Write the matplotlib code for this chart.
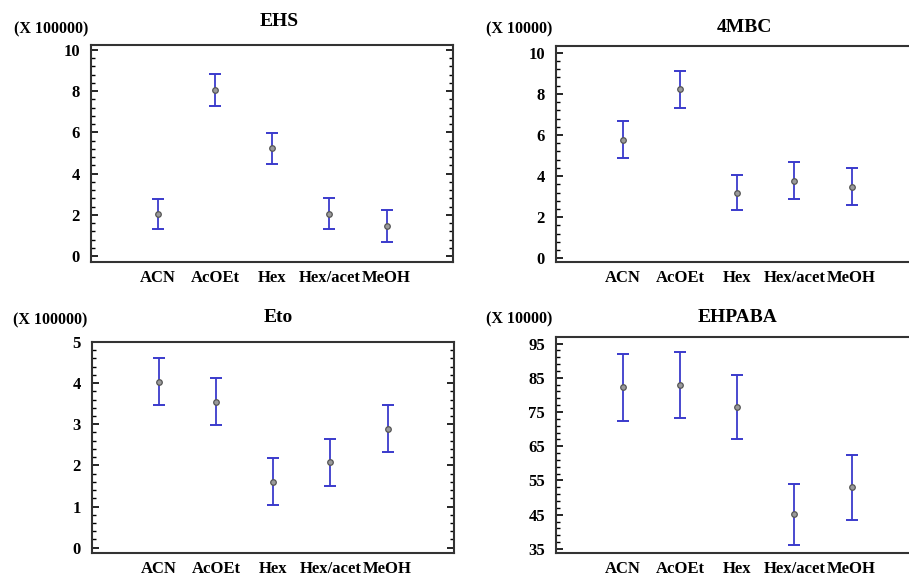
import matplotlib
matplotlib.use('Agg')
import matplotlib.pyplot as plt
from matplotlib.ticker import MultipleLocator, AutoMinorLocator

plt.rcParams['font.family'] = ['Liberation Serif', 'DejaVu Serif']
plt.rcParams['font.weight'] = 'bold'

solvents = ['ACN', 'AcOEt', 'Hex', 'Hex/acet', 'MeOH']

# means and interval half-widths
ehs_mean = [2.05, 8.05, 5.22, 2.06, 1.46]
ehs_err = [0.73, 0.77, 0.77, 0.76, 0.78]

mbc_mean = [5.77, 8.22, 3.20, 3.77, 3.48]
mbc_err = [0.90, 0.90, 0.87, 0.90, 0.90]

eto_mean = [4.03, 3.55, 1.60, 2.08, 2.89]
eto_err = [0.57, 0.57, 0.57, 0.57, 0.57]

ehpaba_mean = [82.2, 82.8, 76.5, 45.1, 53.0]
ehpaba_err = [9.7, 9.6, 9.3, 9.0, 9.5]

W, H = 909, 577
fig = plt.figure(figsize=(W / 100, H / 100), dpi=100)


def px_axes(left, top, right, bottom):
	return fig.add_axes([left / W, 1 - bottom / H, (right - left) / W, (bottom - top) / H])


def panel(ax, mean, err, ylim, major, title, title_xy, mult, mult_xy, offset=0):
	x = list(range(len(solvents)))
	ax.errorbar(x, mean, yerr=err, fmt='none', ecolor='#3a3acc', elinewidth=1.3,
				capsize=4, capthick=1.4, zorder=2)
	ax.plot(x, mean, 'o', ms=4, mfc='#9a9a9a', mec='#555555', mew=0.9, zorder=3)
	ax.set_xlim(-1.17, 5.16)
	ax.set_ylim(*ylim)
	ax.yaxis.set_major_locator(MultipleLocator(major, offset=offset))
	ax.yaxis.set_minor_locator(AutoMinorLocator(5))
	ax.set_xticks(x)
	ax.set_xticklabels(solvents, fontsize=12, fontweight='bold')
	ax.tick_params(axis='x', length=0, pad=6)
	ax.tick_params(axis='y', which='major', direction='in', length=5, width=1.2,
				   right=True, labelsize=12, pad=8)
	ax.tick_params(axis='y', which='minor', direction='in', length=3, width=1.0, right=True)
	for lab in ax.get_yticklabels():
		lab.set_fontweight('bold')
	for sp in ax.spines.values():
		sp.set_linewidth(1.5)
		sp.set_color('#333333')
	fig.text(title_xy[0] / W, 1 - title_xy[1] / H, title, ha='center', va='center',
			 fontsize=14, fontweight='bold')
	fig.text(mult_xy[0] / W, 1 - mult_xy[1] / H, mult, ha='left', va='center',
			 fontsize=11.5, fontweight='bold')


ax1 = px_axes(91, 45, 453, 262)
panel(ax1, ehs_mean, ehs_err, (-0.29, 10.24), 2, 'EHS', (279, 22),
	  '(X 100000)', (14, 29))

ax2 = px_axes(556, 46, 918, 262)
panel(ax2, mbc_mean, mbc_err, (-0.18, 10.33), 2, '4MBC', (744, 27),
	  '(X 10000)', (486, 29))

ax3 = px_axes(92, 342, 454, 553)
panel(ax3, eto_mean, eto_err, (-0.13, 5.0), 1, 'Eto', (278, 317),
	  '(X 100000)', (13, 320))

ax4 = px_axes(556, 337, 918, 553)
panel(ax4, ehpaba_mean, ehpaba_err, (33.8, 96.9), 10, 'EHPABA', (738, 317),
	  '(X 10000)', (486, 319), offset=5)

fig.savefig('out.png', dpi=100)
